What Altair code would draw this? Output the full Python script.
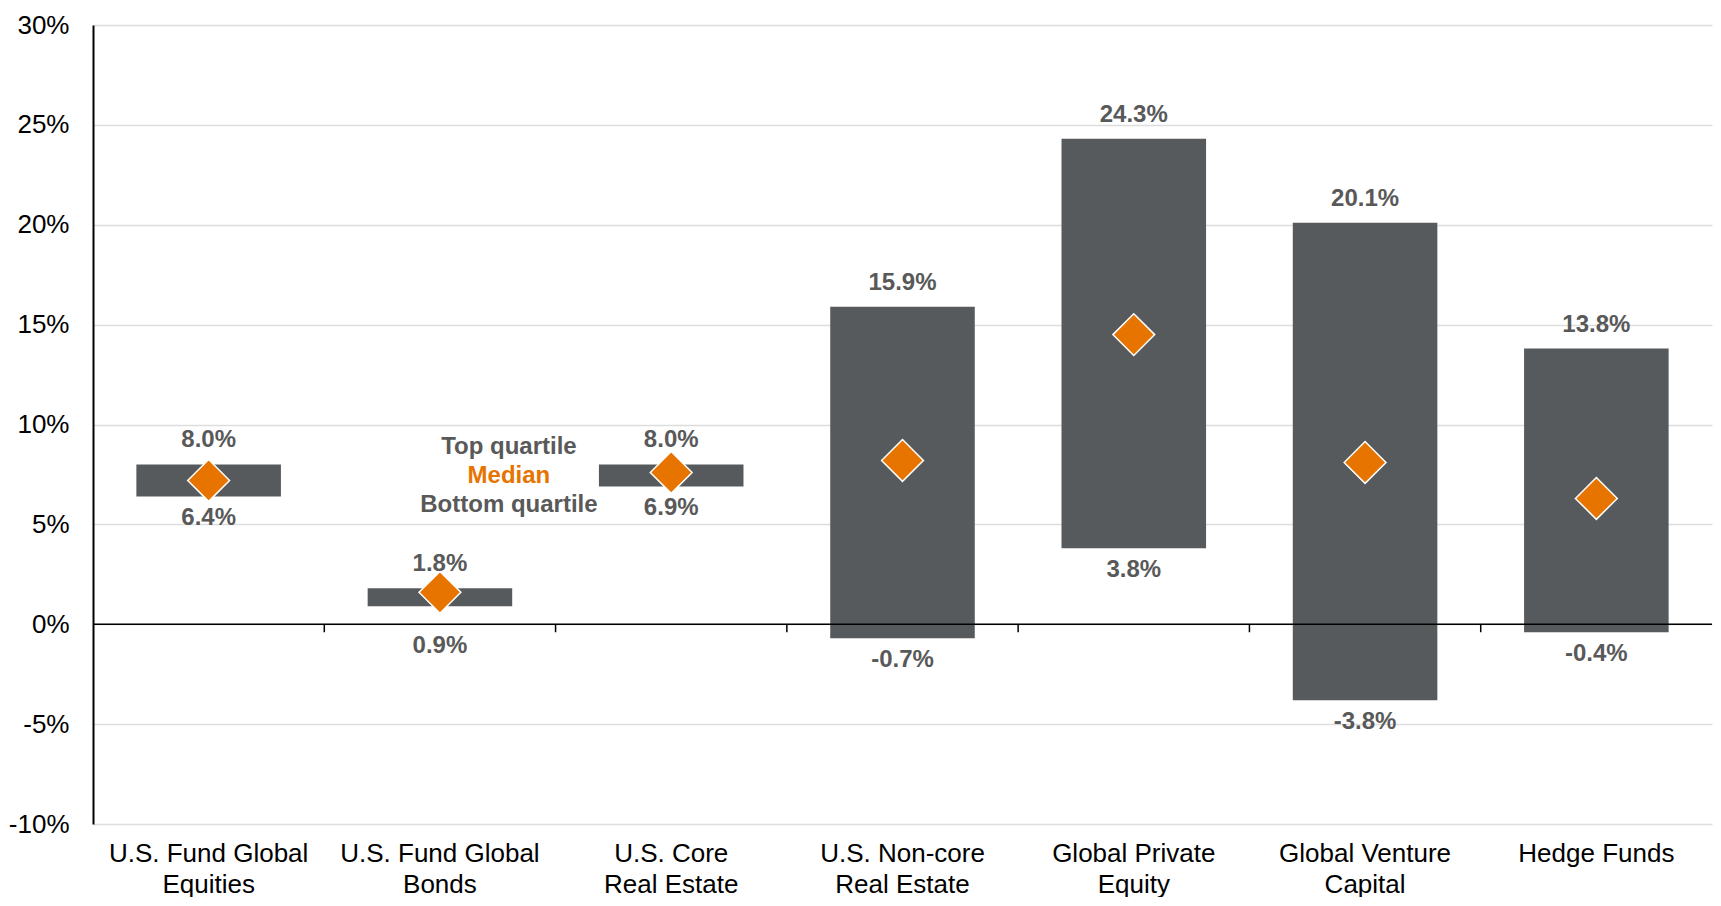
import json
import altair as alt
import pandas as pd

categories = ["U.S. Fund Global Equities", "U.S. Fund Global Bonds", "U.S. Core Real Estate",
              "U.S. Non-core Real Estate", "Global Private Equity", "Global Venture Capital", "Hedge Funds"]
label_lines = [["U.S. Fund Global", "Equities"], ["U.S. Fund Global", "Bonds"], ["U.S. Core", "Real Estate"],
               ["U.S. Non-core", "Real Estate"], ["Global Private", "Equity"], ["Global Venture", "Capital"],
               ["Hedge Funds"]]
top_quartile = [8.0, 1.8, 8.0, 15.9, 24.3, 20.1, 13.8]
bottom_quartile = [6.4, 0.9, 6.9, -0.7, 3.8, -3.8, -0.4]
median = [7.2, 1.6, 7.6, 8.2, 14.5, 8.1, 6.3]
y_ticks = [-10, -5, 0, 5, 10, 15, 20, 25, 30]

legend_cat = "U.S. Fund Global Bonds"
legend_gray = ["Top quartile", "Bottom quartile"]
legend_gray_y = [8.85, 5.95]
legend_orange = ["Median"]
legend_orange_y = [7.4]

BAR = "#575A5D"
ORANGE = "#E87400"
TXT = "#595959"
FONT = "Liberation Sans"

df = pd.DataFrame({"cat": categories, "top": top_quartile, "bottom": bottom_quartile, "median": median})
df["top_lbl"] = [f"{v:.1f}%" for v in top_quartile]
df["bot_lbl"] = [f"{v:.1f}%" for v in bottom_quartile]

label_expr = ("(" + json.dumps(label_lines) + ")[indexof(" + json.dumps(categories) + ", datum.label)]")

xscale = alt.Scale(paddingInner=0, paddingOuter=0)
yscale = alt.Scale(domain=[-10, 30], nice=False)


def X(field="cat:N", **kw):
    return alt.X(field, sort=categories, scale=xscale, title=None, **kw)


def Y(field):
    return alt.Y(field, scale=yscale, title=None)


bars = alt.Chart(df).mark_bar(color=BAR, width={"band": 0.625}).encode(
    x=alt.X("cat:N", sort=categories, scale=xscale, title=None,
            axis=alt.Axis(labelAngle=0, ticks=False, domain=False, grid=False,
                          labelExpr=label_expr, labelFontSize=26, labelFont=FONT,
                          labelColor="black", labelPadding=16, labelLineHeight=31,
                          labelBaseline="top", labelLimit=0)),
    y=alt.Y("top:Q", scale=yscale, title=None,
            axis=alt.Axis(values=y_ticks, labelExpr="datum.value + '%'",
                          labelFontSize=26, labelFont=FONT, labelColor="black",
                          ticks=False, labelPadding=24, domainColor="black", domainWidth=2,
                          gridColor="#DDDDDD", gridWidth=1.5)),
    y2="bottom:Q",
)

zero = alt.Chart(pd.DataFrame({"z": [0]})).mark_rule(color="black", strokeWidth=1.5).encode(
    y=Y("z:Q"))

ticks_df = pd.DataFrame({"cat": categories[1:]})
tick_rules = alt.Chart(ticks_df).mark_rule(color="black", strokeWidth=1.5).encode(
    x=X(bandPosition=0),
    y=alt.datum(0), y2=alt.datum(-0.4))

diamonds = alt.Chart(df).mark_point(shape="diamond", filled=True, fill=ORANGE, stroke="white",
                                    strokeWidth=1.5, size=1750, opacity=1).encode(
    x=X(), y=Y("median:Q"))

top_text = alt.Chart(df).mark_text(font=FONT, fontSize=24, fontWeight="bold", color=TXT,
                                   baseline="middle", dy=-24).encode(
    x=X(), y=Y("top:Q"), text="top_lbl:N")

bot_text = alt.Chart(df).transform_calculate(
    lab_y="(datum.bottom > 0 && datum.bottom < 1.5) ? 0 : datum.bottom"
).mark_text(font=FONT, fontSize=24, fontWeight="bold", color=TXT,
            baseline="middle", dy=22).encode(
    x=X(), y=Y("lab_y:Q"), text="bot_lbl:N")

leg_g = alt.Chart(pd.DataFrame({"cat": [legend_cat] * 2, "y": legend_gray_y, "t": legend_gray})).mark_text(
    font=FONT, fontSize=24, fontWeight="bold", color=TXT, baseline="middle", dx=69).encode(
    x=X(), y=Y("y:Q"), text="t:N")
leg_o = alt.Chart(pd.DataFrame({"cat": [legend_cat], "y": legend_orange_y, "t": legend_orange})).mark_text(
    font=FONT, fontSize=24, fontWeight="bold", color=ORANGE, baseline="middle", dx=69).encode(
    x=X(), y=Y("y:Q"), text="t:N")

chart = alt.layer(bars, zero, tick_rules, diamonds, top_text, bot_text, leg_g, leg_o).properties(
    width=1705, height=889,
    autosize=alt.AutoSizeParams(type="fit", contains="padding"),
    padding={"left": 0, "top": 4, "right": 0, "bottom": 0},
    background="white",
).configure_view(stroke=None)

chart.save("out.html", embed_options={"renderer": "svg", "actions": False})
